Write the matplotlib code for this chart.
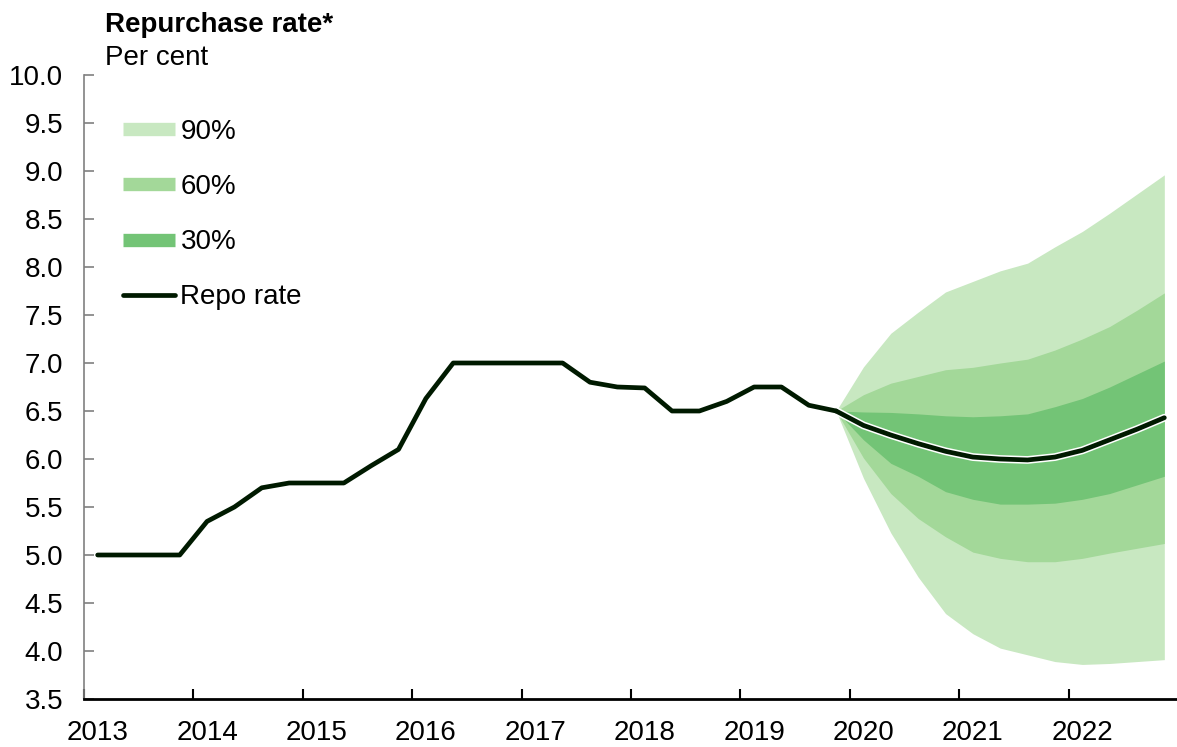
import numpy as np
import matplotlib.pyplot as plt
import matplotlib.patheffects as pe
from matplotlib.lines import Line2D

plt.rcParams['font.family'] = ['Liberation Sans', 'DejaVu Sans']

# Quarterly repo rate, 2013Q1 - 2019Q4 (per cent)
repo_hist = [5.0, 5.0, 5.0, 5.0,
             5.35, 5.5, 5.7, 5.75,
             5.75, 5.75, 5.93, 6.1,
             6.63, 7.0, 7.0, 7.0,
             7.0, 7.0, 6.8, 6.75,
             6.74, 6.5, 6.5, 6.6,
             6.75, 6.75, 6.56, 6.5]

# Forecast 2019Q4 - 2022Q4
repo_fc = [6.5, 6.35, 6.25, 6.16, 6.08, 6.02, 6.0, 5.99, 6.02, 6.09, 6.2, 6.31, 6.43]
up90 = [6.5, 6.96, 7.31, 7.53, 7.74, 7.85, 7.96, 8.04, 8.21, 8.37, 8.56, 8.76, 8.96]
up60 = [6.5, 6.67, 6.79, 6.86, 6.93, 6.955, 7.0, 7.04, 7.135, 7.25, 7.38, 7.55, 7.73]
up30 = [6.5, 6.49, 6.485, 6.47, 6.45, 6.44, 6.45, 6.47, 6.545, 6.63, 6.75, 6.885, 7.02]
lo30 = [6.5, 6.2, 5.955, 5.82, 5.66, 5.58, 5.53, 5.53, 5.54, 5.58, 5.64, 5.73, 5.82]
lo60 = [6.5, 6.01, 5.64, 5.38, 5.19, 5.03, 4.965, 4.93, 4.93, 4.965, 5.02, 5.07, 5.12]
lo90 = [6.5, 5.80, 5.23, 4.77, 4.39, 4.18, 4.03, 3.96, 3.89, 3.86, 3.87, 3.89, 3.91]

years = list(range(2013, 2023))
yticks = np.arange(3.5, 10.01, 0.5)

c90 = '#c8e8c1'
c60 = '#a3d899'
c30 = '#73c476'
cline = '#001a00'
fs = 20

x_hist = 2013 + (np.arange(len(repo_hist)) + 0.5) / 4
x_fc = x_hist[-1] + np.arange(len(repo_fc)) / 4

fig = plt.figure(figsize=(11.77, 7.47), dpi=100)
ax = fig.add_axes([84 / 1177, 48 / 747, 1094 / 1177, 624 / 747])

ax.fill_between(x_fc, lo90, up90, color=c90, lw=0)
ax.fill_between(x_fc, lo60, up60, color=c60, lw=0)
ax.fill_between(x_fc, lo30, up30, color=c30, lw=0)

ax.plot(x_fc, repo_fc, color=cline, lw=3.4, solid_capstyle='round', zorder=3,
        path_effects=[pe.Stroke(linewidth=5.6, foreground='white'), pe.Normal()])
ax.plot(x_hist, repo_hist, color=cline, lw=3.4, solid_capstyle='round', zorder=4)

ax.set_xlim(2013, 2023)
ax.set_ylim(3.5, 10.0)
ax.set_yticks(yticks)
ax.set_yticklabels([f'{v:.1f}' for v in yticks])

ax.set_xticks(years)
ax.set_xticklabels([])
ax.set_xticks([y + 0.125 for y in years], minor=True)
ax.set_xticklabels([str(y) for y in years], minor=True)
ax.tick_params(axis='x', which='major', direction='in', length=7, width=1.5, color='black')
ax.tick_params(axis='x', which='minor', length=0, pad=15, labelsize=fs)
ax.tick_params(axis='y', direction='in', length=7, width=1.2, color='#808080', pad=15, labelsize=fs)

for s in ['top', 'right']:
    ax.spines[s].set_visible(False)
ax.spines['left'].set_color('#808080')
ax.spines['left'].set_linewidth(1.2)
ax.spines['bottom'].set_color('black')
ax.spines['bottom'].set_linewidth(2)

handles = [Line2D([], [], color=c90, lw=9.6, solid_capstyle='butt'),
           Line2D([], [], color=c60, lw=9.6, solid_capstyle='butt'),
           Line2D([], [], color=c30, lw=9.6, solid_capstyle='butt'),
           Line2D([], [], color=cline, lw=3.4, solid_capstyle='round')]
ax.legend(handles, ['90%', '60%', '30%', 'Repo rate'], loc='upper left',
          bbox_to_anchor=(39 / 1094, 1 - 44 / 624), frameon=False, fontsize=fs,
          handlelength=1.87, handletextpad=0.2, labelspacing=1.05,
          borderpad=0, borderaxespad=0)

fig.text(105 / 1177, 1 - 32 / 747, 'Repurchase rate*', fontsize=fs, fontweight='bold',
         va='baseline', ha='left')
fig.text(105 / 1177, 1 - 65 / 747, 'Per cent', fontsize=fs, va='baseline', ha='left')

fig.savefig('out.png', dpi=100)
